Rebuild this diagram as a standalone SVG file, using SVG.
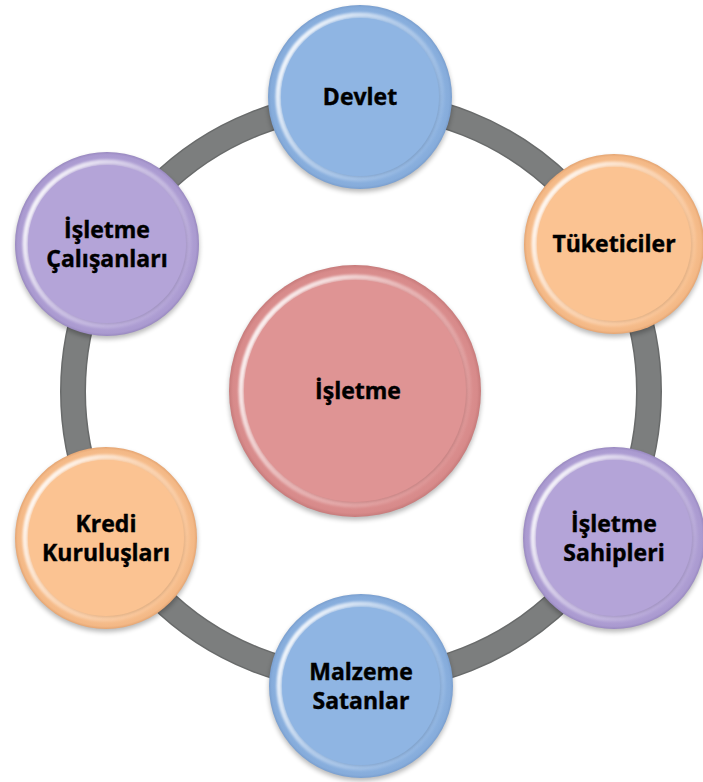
<svg xmlns="http://www.w3.org/2000/svg" width="703" height="782" viewBox="0 0 703 782">
<style>
 .lbl{font-family:"Open Sans","Liberation Sans",sans-serif;font-weight:700;font-size:23px;fill:#000;stroke:#000;stroke-width:0.4;text-anchor:middle}
 .shadow{fill:#000;opacity:0.28;filter:url(#blur3)}
 .hl{fill:none;stroke:url(#hlGrad);stroke-width:5;filter:url(#blur1)}
 .inEdge{fill:none;stroke:url(#shGrad);stroke-width:3;filter:url(#blur1)}
</style>
<defs>
 <filter id="blur3" x="-20%" y="-20%" width="140%" height="140%"><feGaussianBlur stdDeviation="2.5"/></filter>
 <filter id="blur1" x="-10%" y="-10%" width="120%" height="120%"><feGaussianBlur stdDeviation="1.2"/></filter>
 <linearGradient id="hlGrad" x1="0" y1="0.2" x2="1" y2="0.8">
  <stop offset="0" stop-color="#fff" stop-opacity="0.95"/>
  <stop offset="0.45" stop-color="#fff" stop-opacity="0.35"/>
  <stop offset="1" stop-color="#fff" stop-opacity="0"/>
 </linearGradient>
 <linearGradient id="shGrad" x1="0" y1="0" x2="1" y2="1">
  <stop offset="0" stop-color="#000" stop-opacity="0"/>
  <stop offset="0.6" stop-color="#000" stop-opacity="0.04"/>
  <stop offset="1" stop-color="#000" stop-opacity="0.15"/>
 </linearGradient>
 <radialGradient id="gBlue" cx="0.5" cy="0.5" r="0.5">
  <stop offset="0.85" stop-color="#8fb5e3"/>
  <stop offset="0.97" stop-color="#86acdb"/>
  <stop offset="1" stop-color="#7a9fcf"/>
 </radialGradient>
 <radialGradient id="gOrange" cx="0.5" cy="0.5" r="0.5">
  <stop offset="0.85" stop-color="#fbc392"/>
  <stop offset="0.97" stop-color="#f3b886"/>
  <stop offset="1" stop-color="#e5a572"/>
 </radialGradient>
 <radialGradient id="gPurple" cx="0.5" cy="0.5" r="0.5">
  <stop offset="0.85" stop-color="#b4a4d8"/>
  <stop offset="0.97" stop-color="#aa9ad0"/>
  <stop offset="1" stop-color="#9989c0"/>
 </radialGradient>
 <radialGradient id="gPink" cx="0.5" cy="0.5" r="0.5">
  <stop offset="0.85" stop-color="#df9494"/>
  <stop offset="0.97" stop-color="#d78a8a"/>
  <stop offset="1" stop-color="#c77b7b"/>
 </radialGradient>
</defs>
<rect width="703" height="782" fill="#fff"/>
<g id="connectors">
 <circle cx="361" cy="391.5" r="288" fill="none" stroke="#696b6b" stroke-width="26"/>
 <circle cx="361" cy="391.5" r="288" fill="none" stroke="#7c7e7e" stroke-width="23"/>
</g>
<g id="isletme" transform="translate(355,391)">
 <circle r="126" class="shadow" cy="3"/>
 <circle r="126" fill="url(#gPink)"/>
 <circle r="114" class="hl"/>
 <circle r="111" class="inEdge"/>
 <circle r="111" fill="#df9494"/>
 <text class="lbl" x="3" y="8">İşletme</text>
</g>
<g id="devlet" transform="translate(360,97)">
 <circle r="92" class="shadow" cy="3"/>
 <circle r="92" fill="url(#gBlue)"/>
 <circle r="82" class="hl"/>
 <circle r="79" class="inEdge"/>
 <circle r="79" fill="#8fb5e3"/>
 <text class="lbl" y="8">Devlet</text>
</g>
<g id="tuketiciler" transform="translate(614,244)">
 <circle r="90" class="shadow" cy="3"/>
 <circle r="90" fill="url(#gOrange)"/>
 <circle r="80" class="hl"/>
 <circle r="77" class="inEdge"/>
 <circle r="77" fill="#fbc392"/>
 <text class="lbl" y="8">Tüketiciler</text>
</g>
<g id="isletme-sahipleri" transform="translate(614,538)">
 <circle r="91" class="shadow" cy="3"/>
 <circle r="91" fill="url(#gPurple)"/>
 <circle r="81" class="hl"/>
 <circle r="78" class="inEdge"/>
 <circle r="78" fill="#b4a4d8"/>
 <text class="lbl" y="-6">İşletme</text>
 <text class="lbl" y="23">Sahipleri</text>
</g>
<g id="malzeme-satanlar" transform="translate(361,686)">
 <circle r="92" class="shadow" cy="3"/>
 <circle r="92" fill="url(#gBlue)"/>
 <circle r="82" class="hl"/>
 <circle r="79" class="inEdge"/>
 <circle r="79" fill="#8fb5e3"/>
 <text class="lbl" y="-6">Malzeme</text>
 <text class="lbl" y="23">Satanlar</text>
</g>
<g id="kredi-kuruluslari" transform="translate(106,538)">
 <circle r="91" class="shadow" cy="3"/>
 <circle r="91" fill="url(#gOrange)"/>
 <circle r="81" class="hl"/>
 <circle r="78" class="inEdge"/>
 <circle r="78" fill="#fbc392"/>
 <text class="lbl" y="-6">Kredi</text>
 <text class="lbl" y="23">Kuruluşları</text>
</g>
<g id="isletme-calisanlari" transform="translate(107,244)">
 <circle r="92" class="shadow" cy="3"/>
 <circle r="92" fill="url(#gPurple)"/>
 <circle r="82" class="hl"/>
 <circle r="79" class="inEdge"/>
 <circle r="79" fill="#b4a4d8"/>
 <text class="lbl" y="-6">İşletme</text>
 <text class="lbl" y="23">Çalışanları</text>
</g>
</svg>
